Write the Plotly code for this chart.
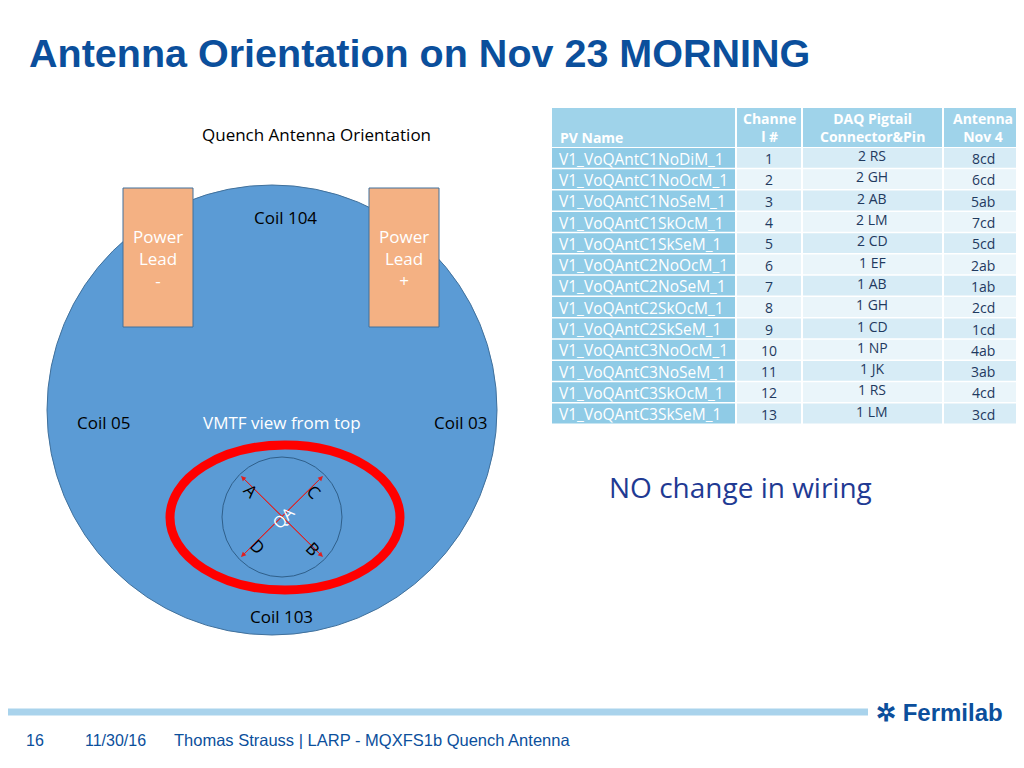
import plotly.graph_objects as go

pv_names = ["V1_VoQAntC1NoDiM_1","V1_VoQAntC1NoOcM_1","V1_VoQAntC1NoSeM_1","V1_VoQAntC1SkOcM_1",
            "V1_VoQAntC1SkSeM_1","V1_VoQAntC2NoOcM_1","V1_VoQAntC2NoSeM_1","V1_VoQAntC2SkOcM_1",
            "V1_VoQAntC2SkSeM_1","V1_VoQAntC3NoOcM_1","V1_VoQAntC3NoSeM_1","V1_VoQAntC3SkOcM_1",
            "V1_VoQAntC3SkSeM_1"]
channels = [str(i) for i in range(1, 14)]
daq_pins = ["2 RS","2 GH","2 AB","2 LM","2 CD","1 EF","1 AB","1 GH","1 CD","1 NP","1 JK","1 RS","1 LM"]
antenna = ["8cd","6cd","5ab","7cd","5cd","2ab","1ab","2cd","1cd","4ab","3ab","4cd","3cd"]

fig = go.Figure()
shapes = []
ann = []
F = "Open Sans"

def text(x, y, t, size=14, color="black", font=F, xa="center", **kw):
    ann.append(dict(x=x, y=y, text=t, showarrow=False, xanchor=xa, yanchor="middle",
                    font=dict(size=size, color=color, family=font), **kw))

text(27, 53, "<b>Antenna Orientation on Nov 23 MORNING</b>", 39.5, "#0b4f9c", "Liberation Sans", "left")

text(316, 134, "Quench Antenna Orientation", 17, "black", F)
shapes.append(dict(type="circle", x0=47, y0=185, x1=497, y1=635, fillcolor="#5b9bd5", line=dict(color="#41719c", width=1)))
for x0, sign in [(123, "-"), (369, "+")]:
    shapes.append(dict(type="rect", x0=x0, y0=188, x1=x0+70, y1=327, fillcolor="#f4b183", line=dict(color="#41719c", width=1)))
    text(x0+35, 258, "Power<br>Lead<br>" + sign, 17, "white", F)
text(285, 217, "Coil 104", 17)
text(103, 422, "Coil 05", 17)
text(460, 422, "Coil 03", 17)
text(282, 422, "VMTF view from top", 17, "white")
text(281, 616, "Coil 103", 17)
shapes.append(dict(type="circle", x0=222, y0=457, x1=342, y1=577, line=dict(color="#2f5f8a", width=1)))
shapes.append(dict(type="circle", x0=170, y0=445, x1=400, y1=590, line=dict(color="#ff0000", width=9)))
for (x0, y0, x1, y1) in [(241, 476, 323, 557), (323, 476, 241, 557)]:
    for (a, b, c, d) in [(x0, y0, x1, y1), (x1, y1, x0, y0)]:
        ann.append(dict(x=c, y=d, ax=a, ay=b, xref="x", yref="y", axref="x", ayref="y", text="",
                        showarrow=True, arrowhead=2, arrowsize=1, arrowwidth=1, arrowcolor="#e02020"))
text(251, 490, "A", 17, textangle=45)
text(314, 491, "C", 17, textangle=45)
text(258, 546, "D", 17, textangle=45)
text(313, 548, "B", 17, textangle=45)
text(283, 518, "QA", 16, "white", textangle=-45)

cols = [(552, 735), (737, 801), (803, 942), (944, 1022)]
hdr = ["PV Name", "Channe<br>l #", "DAQ Pigtail<br>Connector&Pin", "Antenna<br>Nov 4"]
for i, (a, b) in enumerate(cols):
    shapes.append(dict(type="rect", x0=a, y0=108, x1=b, y1=147, fillcolor="#9fd3ea", line=dict(width=0)))
    if i == 0:
        text(a+6, 137, "<b>PV Name</b>", 14, "white", F, "left")
    else:
        text((a+b)/2, 127, "<b>" + hdr[i] + "</b>", 14, "white", F)
rh = 21.3
for r in range(13):
    y0 = 148 + r*rh
    for i, (a, b) in enumerate(cols):
        fc = "#8fcbe6" if i == 0 else ("#d7ecf6" if r % 2 == 0 else "#eaf5fa")
        shapes.append(dict(type="rect", x0=a, y0=y0, x1=b, y1=y0+rh-1.5, fillcolor=fc, line=dict(width=0)))
    yc = y0 + rh/2
    text(557, yc, pv_names[r], 15.5, "white", F, "left")
    text(769, yc, channels[r], 14, "#1f3a5f")
    text(872, yc - 3, daq_pins[r], 14, "#1f3a5f")
    text(983, yc, antenna[r], 14, "#1f3a5f")

text(607, 487, "NO change in wiring", 28, "#1f3a93", F, "left")

shapes.append(dict(type="line", x0=0, y0=712, x1=868, y1=712, line=dict(color="#a9d3ec", width=7)))
text(24, 740, "16", 16, "#0b4f9c", "Liberation Sans", "left")
text(83, 740, "11/30/16", 16, "#0b4f9c", "Liberation Sans", "left")
text(172, 740, "Thomas Strauss | LARP - MQXFS1b Quench Antenna", 16.5, "#0b4f9c", "Liberation Sans", "left")
text(874, 712, "<b>✲ Fermilab</b>", 24, "#0b4f9c", "Liberation Sans", "left")

fig.update_layout(width=1016, height=760, margin=dict(l=0, r=0, t=0, b=0),
                  plot_bgcolor="white", paper_bgcolor="white", showlegend=False,
                  xaxis=dict(range=[8, 1024], visible=False, fixedrange=True),
                  yaxis=dict(range=[768, 8], visible=False, fixedrange=True),
                  shapes=shapes, annotations=ann)
fig.write_html("out.html")
